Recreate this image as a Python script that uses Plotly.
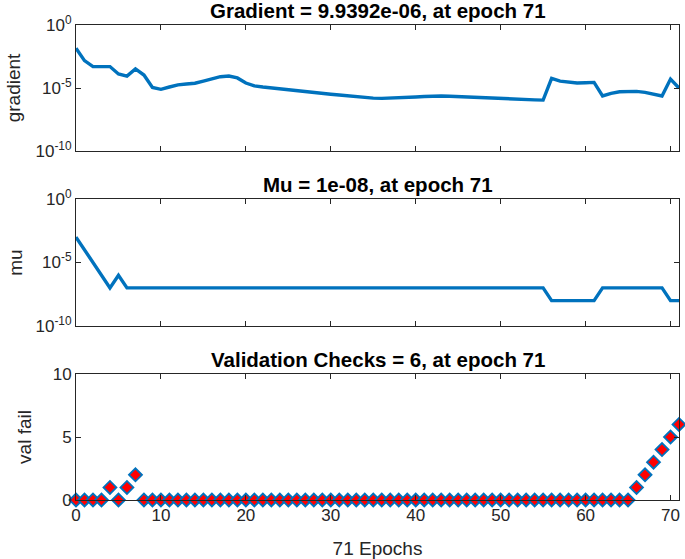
import plotly.graph_objects as go

epochs = list(range(72))

gradient = [
    1.41e-2, 1.48e-3, 5.0e-4, 5.0e-4, 5.0e-4, 1.29e-4, 8.9e-5, 3.24e-4, 1.07e-4, 1.12e-5,
    7.9e-6, 1.2e-5, 1.78e-5, 2.09e-5, 2.4e-5, 3.55e-5, 5.6e-5, 7.9e-5, 8.9e-5, 6.3e-5,
    2.5e-5, 1.48e-5, 1.2e-5, 1.0e-5, 8.3e-6, 6.9e-6, 5.9e-6, 5.0e-6, 4.27e-6, 3.72e-6,
    3.16e-6, 2.75e-6, 2.34e-6, 2.0e-6, 1.74e-6, 1.58e-6, 1.51e-6, 1.55e-6, 1.62e-6, 1.78e-6,
    1.95e-6, 2.14e-6, 2.29e-6, 2.34e-6, 2.24e-6, 2.09e-6, 1.91e-6, 1.70e-6, 1.55e-6, 1.41e-6,
    1.35e-6, 1.29e-6, 1.23e-6, 1.17e-6, 1.15e-6, 1.10e-6, 5.9e-5, 3.55e-5, 2.75e-5, 2.5e-5,
    2.6e-5, 2.8e-5, 2.34e-6, 3.8e-6, 5.0e-6, 5.6e-6, 5.4e-6, 4.5e-6, 3.3e-6, 2.34e-6,
    5.1e-5, 9.9392e-6,
]

mu = [
    1e-3, 1e-4, 1e-5, 1e-6, 1e-7, 1e-6, 1e-7, 1e-7, 1e-7, 1e-7,
    1e-7, 1e-7, 1e-7, 1e-7, 1e-7, 1e-7, 1e-7, 1e-7, 1e-7, 1e-7,
    1e-7, 1e-7, 1e-7, 1e-7, 1e-7, 1e-7, 1e-7, 1e-7, 1e-7, 1e-7,
    1e-7, 1e-7, 1e-7, 1e-7, 1e-7, 1e-7, 1e-7, 1e-7, 1e-7, 1e-7,
    1e-7, 1e-7, 1e-7, 1e-7, 1e-7, 1e-7, 1e-7, 1e-7, 1e-7, 1e-7,
    1e-7, 1e-7, 1e-7, 1e-7, 1e-7, 1e-7, 1e-8, 1e-8, 1e-8, 1e-8,
    1e-8, 1e-8, 1e-7, 1e-7, 1e-7, 1e-7, 1e-7, 1e-7, 1e-7, 1e-7,
    1e-8, 1e-8,
]

val_fail = [
    0, 0, 0, 0, 1, 0, 1, 2, 0, 0,
    0, 0, 0, 0, 0, 0, 0, 0, 0, 0,
    0, 0, 0, 0, 0, 0, 0, 0, 0, 0,
    0, 0, 0, 0, 0, 0, 0, 0, 0, 0,
    0, 0, 0, 0, 0, 0, 0, 0, 0, 0,
    0, 0, 0, 0, 0, 0, 0, 0, 0, 0,
    0, 0, 0, 0, 0, 0, 1, 2, 3, 4,
    5, 6,
]

titles = [
    "Gradient = 9.9392e-06, at epoch 71",
    "Mu = 1e-08, at epoch 71",
    "Validation Checks = 6, at epoch 71",
]
ylabels = ["gradient", "mu", "val fail"]
log_tickvals = [1e-10, 1e-5, 1]
log_ticktext = ["10<sup>-10</sup>", "10<sup>-5</sup>", "10<sup>0</sup>"]
x_ticks = [0, 10, 20, 30, 40, 50, 60, 70]
lin_ticks = [0, 5, 10]

BLUE = "#0072BD"
AX = "#262626"
FONT = "Liberation Sans, Arial, Helvetica, sans-serif"
TICK = 17
LAB = 19

fig = go.Figure()
fig.add_trace(go.Scatter(x=epochs, y=gradient, mode="lines",
                         line=dict(color=BLUE, width=3.4), xaxis="x", yaxis="y",
                         showlegend=False))
fig.add_trace(go.Scatter(x=epochs, y=mu, mode="lines",
                         line=dict(color=BLUE, width=3.4), xaxis="x2", yaxis="y2",
                         showlegend=False))
fig.add_trace(go.Scatter(x=epochs, y=val_fail, mode="markers",
                         marker=dict(symbol="diamond", size=10, color="#FF0000",
                                     line=dict(color=BLUE, width=1.8)),
                         xaxis="x3", yaxis="y3", showlegend=False, cliponaxis=False))

H = 475.0
doms = [((500 - 151) / H, 1.0), ((500 - 326) / H, (500 - 199) / H), (0.0, 126 / H)]

common_x = dict(range=[0, 71], tickvals=x_ticks, ticks="inside", ticklen=5,
                tickcolor=AX, showline=True, linecolor=AX, linewidth=1, mirror="ticks",
                showgrid=False, zeroline=False,
                tickfont=dict(family=FONT, size=TICK, color=AX))
common_y = dict(ticks="inside", ticklen=5, tickcolor=AX, showline=True, linecolor=AX,
                linewidth=1, mirror="ticks", showgrid=False, zeroline=False,
                tickfont=dict(family=FONT, size=TICK, color=AX))

layout = dict(
    width=685, height=559,
    margin=dict(l=76, r=6, t=25, b=59, autoexpand=False),
    paper_bgcolor="white", plot_bgcolor="white",
    font=dict(family=FONT, color=AX),
    xaxis=dict(**common_x, domain=[0, 1], anchor="y", showticklabels=False),
    xaxis2=dict(**common_x, domain=[0, 1], anchor="y2", showticklabels=False),
    xaxis3=dict(**common_x, domain=[0, 1], anchor="y3", automargin=False,
                title=dict(text="71 Epochs", font=dict(family=FONT, size=LAB, color=AX),
                           standoff=17)),
    yaxis=dict(**common_y, domain=list(doms[0]), anchor="x", type="log",
               range=[-10, 0], tickvals=log_tickvals, ticktext=log_ticktext,
               title=dict(text=ylabels[0], font=dict(family=FONT, size=LAB, color=AX),
                          standoff=9)),
    yaxis2=dict(**common_y, domain=list(doms[1]), anchor="x2", type="log",
                range=[-10, 0], tickvals=log_tickvals, ticktext=log_ticktext,
                title=dict(text=ylabels[1], font=dict(family=FONT, size=LAB, color=AX),
                           standoff=7)),
    yaxis3=dict(**common_y, domain=list(doms[2]), anchor="x3",
                range=[0, 10], tickvals=lin_ticks,
                title=dict(text=ylabels[2], font=dict(family=FONT, size=LAB, color=AX),
                           standoff=16)),
)
fig.update_layout(**layout)

for title, dom in zip(titles, doms):
    fig.add_annotation(text="<b>" + title + "</b>", xref="paper", yref="paper",
                       x=0.5, y=dom[1], yshift=1, xanchor="center", yanchor="bottom",
                       showarrow=False, font=dict(family=FONT, size=20.5, color="black"))

fig.write_html("out.html", config={"displayModeBar": False},
               post_script="document.body.style.margin='0';")
